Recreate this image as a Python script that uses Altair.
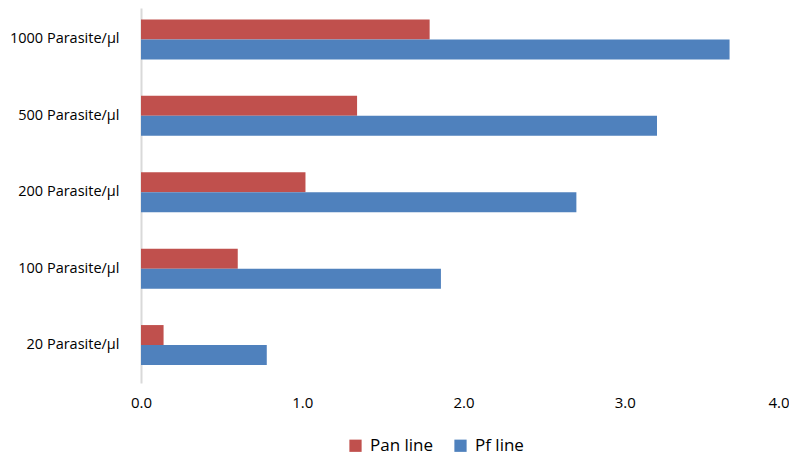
import altair as alt
import pandas as pd

categories = ["1000 Parasite/µl", "500 Parasite/µl", "200 Parasite/µl", "100 Parasite/µl", "20 Parasite/µl"]
series = ["Pan line", "Pf line"]
pan_values = [1.79, 1.34, 1.02, 0.60, 0.14]
pf_values = [3.65, 3.20, 2.70, 1.86, 0.78]
x_ticks = [0, 1, 2, 3, 4]
colors = ["#C0504D", "#4F81BD"]

rows = []
for c, a, b in zip(categories, pan_values, pf_values):
    rows.append({"cat": c, "series": "Pan line", "value": a})
    rows.append({"cat": c, "series": "Pf line", "value": b})
df = pd.DataFrame(rows)

FONT = "Open Sans"

chart = alt.Chart(df).mark_bar().encode(
    y=alt.Y("cat:N", sort=categories, title=None,
            scale=alt.Scale(paddingInner=0.4764, paddingOuter=0.1924, align=0.39),
            axis=alt.Axis(ticks=False, domainColor="#D9D9D9", domainWidth=2,
                          labelPadding=22, labelFontSize=14.5, labelColor="#000000",
                          labelFont=FONT, grid=False)),
    yOffset=alt.YOffset("series:N", sort=series),
    x=alt.X("value:Q", title=None,
            scale=alt.Scale(domain=[0, 4], nice=False),
            axis=alt.Axis(values=x_ticks, format=".1f", ticks=False, domain=False,
                          grid=False, labelPadding=12, labelFontSize=15, labelFlush=False,
                          labelAlign={"condition": {"test": "datum.value == 4", "value": "right"},
                                      "value": "center"},
                          labelOffset={"condition": {"test": "datum.value == 4", "value": 3},
                                       "value": 0},
                          labelColor="#000000", labelFont=FONT)),
    color=alt.Color("series:N", sort=series,
                    scale=alt.Scale(domain=series, range=colors),
                    legend=alt.Legend(title=None, orient="none", legendX=206, legendY=429,
                                      direction="horizontal", symbolType="square",
                                      symbolSize=150, symbolStrokeWidth=0,
                                      labelFontSize=17, labelFont=FONT, labelColor="#000000",
                                      columnPadding=18, labelOffset=6)),
).properties(
    width=645, height=375,
    autosize=alt.AutoSizeParams(type="none"),
    padding={"left": 133, "top": 0, "right": 3, "bottom": 74},
).configure_view(stroke=None)

chart.save("out.html", embed_options={"renderer": "svg", "actions": False})
